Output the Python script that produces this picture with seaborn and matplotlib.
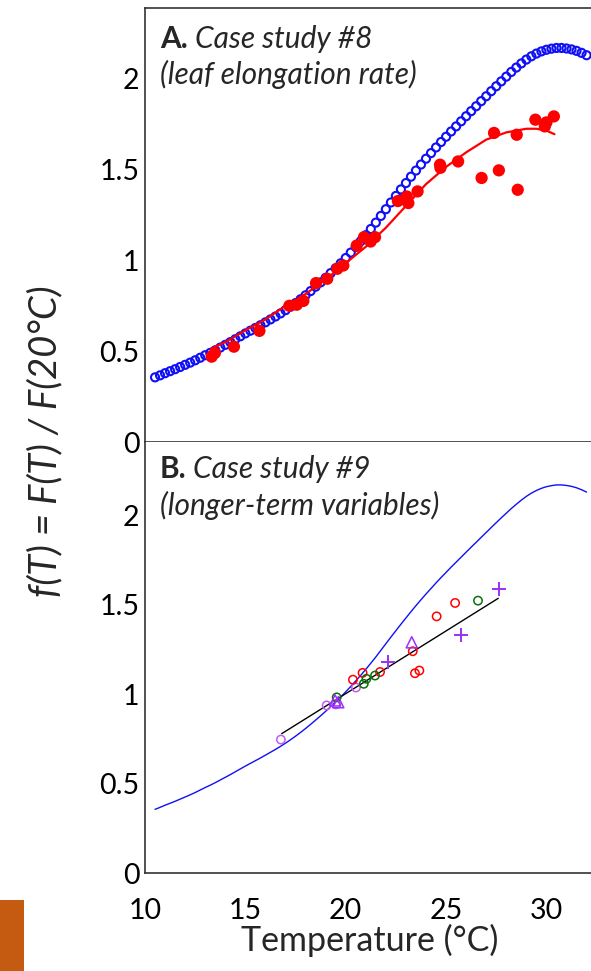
import matplotlib
matplotlib.use("Agg")
import matplotlib.pyplot as plt
import seaborn as sns
import pandas as pd
from matplotlib.patches import Rectangle

# ---------------- data ----------------
# model curve f(T) (blue)
model_T = [10.50, 10.75, 11.00, 11.25, 11.50, 11.75, 12.00, 12.25, 12.50, 12.75,
           13.00, 13.25, 13.50, 13.75, 14.00, 14.25, 14.50, 14.75, 15.00, 15.25,
           15.50, 15.75, 16.00, 16.25, 16.50, 16.75, 17.00, 17.25, 17.50, 17.75,
           18.00, 18.25, 18.50, 18.75, 19.00, 19.25, 19.50, 19.75, 20.00, 20.25,
           20.50, 20.75, 21.00, 21.25, 21.50, 21.75, 22.00, 22.25, 22.50, 22.75,
           23.00, 23.25, 23.50, 23.75, 24.00, 24.25, 24.50, 24.75, 25.00, 25.25,
           25.50, 25.75, 26.00, 26.25, 26.50, 26.75, 27.00, 27.25, 27.50, 27.75,
           28.00, 28.25, 28.50, 28.75, 29.00, 29.25, 29.50, 29.75, 30.00, 30.25,
           30.50, 30.75, 31.00, 31.25, 31.50, 31.75, 32.00]
model_f = [0.356, 0.367, 0.379, 0.390, 0.401, 0.413, 0.425, 0.437, 0.450, 0.464,
           0.478, 0.491, 0.505, 0.520, 0.535, 0.550, 0.566, 0.582, 0.598, 0.613,
           0.628, 0.643, 0.659, 0.675, 0.691, 0.708, 0.726, 0.745, 0.765, 0.786,
           0.808, 0.831, 0.855, 0.879, 0.904, 0.930, 0.957, 0.984, 1.013, 1.043,
           1.074, 1.106, 1.139, 1.173, 1.208, 1.245, 1.282, 1.319, 1.355, 1.391,
           1.426, 1.461, 1.495, 1.528, 1.560, 1.591, 1.622, 1.652, 1.681, 1.710,
           1.738, 1.766, 1.794, 1.822, 1.849, 1.877, 1.904, 1.932, 1.959, 1.986,
           2.012, 2.038, 2.062, 2.085, 2.106, 2.124, 2.139, 2.151, 2.160, 2.166,
           2.170, 2.170, 2.167, 2.162, 2.154, 2.143, 2.130]

# Case study #8 observations (red dots)
leaf_T = [13.32, 13.48, 14.43, 15.70, 17.19, 17.56, 17.89, 18.52, 19.08, 19.58,
          19.88, 20.55, 20.91, 21.24, 21.46, 22.60, 23.00, 23.04, 23.12, 23.58,
          24.70, 24.72, 25.60, 26.77, 27.39, 27.63, 28.52, 28.57, 29.45, 29.92,
          30.00, 30.37]
leaf_f = [0.470, 0.490, 0.525, 0.612, 0.750, 0.756, 0.777, 0.875, 0.899, 0.954,
          0.972, 1.082, 1.128, 1.104, 1.128, 1.327, 1.334, 1.352, 1.316, 1.380,
          1.527, 1.510, 1.545, 1.454, 1.702, 1.496, 1.692, 1.389, 1.775, 1.738,
          1.760, 1.793]

# Case study #8 fitted curve (red line)
leaffit_T = [13.3, 14.0, 15.0, 16.0, 17.0, 18.0, 19.0, 20.0, 21.0, 22.0,
             23.0, 24.0, 25.0, 26.0, 27.0, 28.0, 29.0, 29.5, 30.0, 30.4]
leaffit_f = [0.515, 0.550, 0.615, 0.675, 0.750, 0.815, 0.895, 0.985, 1.075, 1.180,
             1.300, 1.420, 1.515, 1.595, 1.665, 1.705, 1.725, 1.725, 1.715, 1.695]

# Case study #9 observations
violet_circ_T = [16.77, 19.05, 19.52, 20.51]
violet_circ_f = [0.746, 0.937, 0.943, 1.037]
purple_tri_T = [19.47, 19.63, 23.29]
purple_tri_f = [0.965, 0.955, 1.290]
purple_plus_T = [22.10, 25.73, 27.62]
purple_plus_f = [1.179, 1.333, 1.586]
red_circ_T = [20.36, 20.84, 21.71, 23.34, 23.45, 23.67, 24.53, 25.45]
red_circ_f = [1.081, 1.119, 1.124, 1.240, 1.117, 1.132, 1.435, 1.510]
green_circ_T = [19.55, 20.90, 21.03, 21.46, 26.59]
green_circ_f = [0.982, 1.058, 1.086, 1.104, 1.523]

# Case study #9 regression line (black)
reg_T = [16.81, 27.60]
reg_f = [0.779, 1.536]

yticks = [0, 0.5, 1, 1.5, 2]
ytick_labels = ["0", "0.5", "1", "1.5", "2"]
xticks = [10, 15, 20, 25, 30]
xtick_labels = ["10", "15", "20", "25", "30"]

# ---------------- style ----------------
sns.set_style("white")
plt.rcParams["font.family"] = ["Lato", "DejaVu Sans"]

BLUE = "#1010f5"
RED = "#ff0000"
VIOLET = "#c45cf0"
PURPLE = "#9b30f5"
GREEN = "#0a6e0a"

W, H = 591, 971
fig = plt.figure(figsize=(W / 100, H / 100), dpi=100)

left = 145 / W
width = 449 / W
axA = fig.add_axes([left, 529 / H, width, 434 / H])
axB = fig.add_axes([left, 98 / H, width, 431 / H])

model_df = pd.DataFrame({"T": model_T, "f": model_f})
leaf_df = pd.DataFrame({"T": leaf_T, "f": leaf_f})
leaffit_df = pd.DataFrame({"T": leaffit_T, "f": leaffit_f})

# Panel A
sns.scatterplot(data=model_df, x="T", y="f", ax=axA, marker="o", s=34,
                facecolors="none", edgecolor=BLUE, linewidth=1.5, zorder=2)
sns.lineplot(data=leaffit_df, x="T", y="f", ax=axA, color=RED, linewidth=1.6,
             zorder=3)
sns.scatterplot(data=leaf_df, x="T", y="f", ax=axA, marker="o", s=78,
                color=RED, edgecolor="none", zorder=4)

# Panel B
sns.lineplot(data=model_df, x="T", y="f", ax=axB, color=BLUE, linewidth=1.0,
             zorder=2)
sns.lineplot(x=reg_T, y=reg_f, ax=axB, color="black", linewidth=1.0, zorder=3)
sns.scatterplot(x=violet_circ_T, y=violet_circ_f, ax=axB, marker="o", s=36,
                facecolors="none", edgecolor=VIOLET, linewidth=1.1, zorder=4)
sns.scatterplot(x=red_circ_T, y=red_circ_f, ax=axB, marker="o", s=36,
                facecolors="none", edgecolor=RED, linewidth=1.1, zorder=4)
sns.scatterplot(x=green_circ_T, y=green_circ_f, ax=axB, marker="o", s=36,
                facecolors="none", edgecolor=GREEN, linewidth=1.1, zorder=4)
sns.scatterplot(x=purple_tri_T, y=purple_tri_f, ax=axB, marker="^", s=64,
                facecolors="none", edgecolor=PURPLE, linewidth=1.1, zorder=4)
sns.scatterplot(x=purple_plus_T, y=purple_plus_f, ax=axB, marker="+", s=100,
                color=PURPLE, linewidth=1.4, zorder=4)

for ax, ytop in ((axA, 2.39), (axB, 2.41)):
    ax.set_xlim(10, 32.37)
    ax.set_ylim(0, ytop)
    ax.set_yticks(yticks)
    ax.set_yticklabels(ytick_labels)
    ax.set_xticks(xticks)
    ax.set_xlabel("")
    ax.set_ylabel("")
    ax.tick_params(axis="both", direction="in", length=7, width=1.0,
                   color="#555555", labelsize=20.5, labelcolor="black")
    ax.tick_params(axis="y", pad=4)
    ax.tick_params(axis="x", pad=18)
    for side in ("left", "bottom", "top", "right"):
        ax.spines[side].set_color("#333333")
        ax.spines[side].set_linewidth(1.2)
    ax.spines["right"].set_visible(False)
    ax.grid(False)

axA.tick_params(axis="x", labelbottom=False)
axB.set_xticklabels(xtick_labels)
axB.spines["top"].set_visible(False)

# Panel titles
def panel_title(ax, letter, line1, line2, y1, y2):
    t = ax.text(0.033, y1, letter, transform=ax.transAxes, fontsize=21.5,
                fontweight="bold", va="baseline", ha="left")
    ax.annotate(" " + line1, xy=(1, 0), xycoords=t, fontsize=21.5,
                fontstyle="italic", va="bottom", ha="left")
    ax.text(0.033, y2, line2, transform=ax.transAxes, fontsize=21.5,
            fontstyle="italic", va="baseline", ha="left")

panel_title(axA, "A.", "Case study #8", "(leaf elongation rate)", 0.908, 0.825)
panel_title(axB, "B.", "Case study #9", "(longer-term variables)", 0.9165, 0.8306)

# Axis labels
axB.set_xlabel("Temperature (°C)", fontsize=24.5, labelpad=0)
fig.text(45 / W, 1 - 441 / H, "f(T) = F(T) / F(20°C)", rotation=90,
         fontsize=27.5, fontstyle="italic", ha="center", va="center")

# Orange decoration bar
fig.patches.append(Rectangle((0, 0), 24 / W, 71 / H, transform=fig.transFigure,
                             facecolor="#c55a11", edgecolor="none"))

fig.savefig("out.png", dpi=100)
